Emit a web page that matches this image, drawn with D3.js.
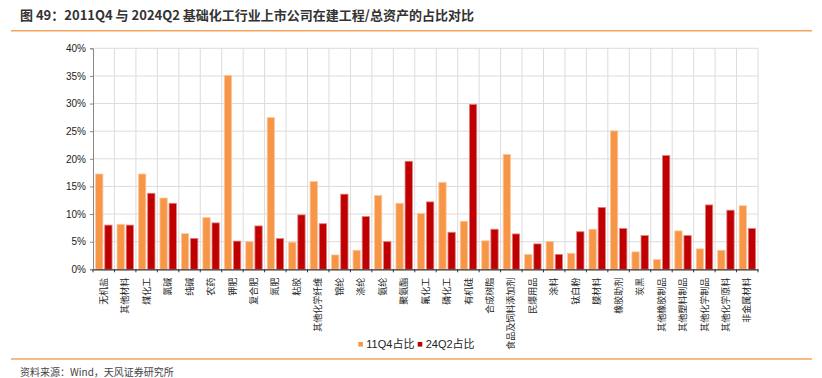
<!DOCTYPE html>
<html><head><meta charset="utf-8">
<script src="https://cdn.jsdelivr.net/npm/d3@7"></script>
<style>
html,body{margin:0;padding:0;background:#fff;}
svg{display:block;font-family:"Liberation Sans","Noto Sans CJK SC",sans-serif;}
</style></head>
<body>
<svg id="c" width="822" height="378"></svg>
<script>
const categories = ["无机盐","其他材料","煤化工","氯碱","纯碱","农药","钾肥","复合肥","氮肥","粘胶","其他化学纤维","锦纶","涤纶","氨纶","聚氨酯","氟化工","磷化工","有机硅","合成树脂","食品及饲料添加剂","民爆用品","涂料","钛白粉","膜材料","橡胶助剂","炭黑","其他橡胶制品","其他塑料制品","其他化学制品","其他化学原料","非金属材料"];
const series = ["11Q4占比","24Q2占比"];
const values11Q4 = [17.25,8.15,17.25,12.9,6.45,9.35,35.1,5.0,27.45,4.9,15.9,2.6,3.45,13.35,11.95,10.1,15.75,8.7,5.15,20.8,2.7,5.05,2.9,7.25,25.05,3.15,1.75,6.95,3.7,3.45,11.5];
const values24Q2 = [8.0,8.0,13.76,11.95,5.6,8.4,5.1,7.85,5.55,9.85,8.25,13.6,9.55,5.0,19.55,12.2,6.7,29.85,7.25,6.4,4.6,2.7,6.8,11.2,7.4,6.1,20.6,6.1,11.65,10.7,7.4];
const yTicks = [0,5,10,15,20,25,30,35,40];
const colors = ["#F79646","#C00000"];
const strokes = ["#FBC79E","#E08080"];

const svg = d3.select("#c");
const L=93, R=758, T=48.3, B=269.3;
const x0 = d3.scaleBand().domain(categories).range([L,R]).padding(0);
const x1 = d3.scaleBand().domain(series).range([2.6, x0.bandwidth()-2.4]).paddingInner(0.2).paddingOuter(0);
const y = d3.scaleLinear().domain([0,40]).range([B,T]);

// title
svg.append("text").attr("x",20).attr("y",20).attr("font-size",13).attr("font-weight","bold")
  .attr("fill","#333").attr("font-family","'Noto Sans CJK SC',sans-serif")
  .text("图 49：2011Q4 与 2024Q2 基础化工行业上市公司在建工程/总资产的占比对比");
svg.append("line").attr("x1",11).attr("x2",812).attr("y1",30.7).attr("y2",30.7).attr("stroke","#F4A460").attr("stroke-width",1.5);
svg.append("line").attr("x1",11).attr("x2",812).attr("y1",359).attr("y2",359).attr("stroke","#F4A460").attr("stroke-width",1.5);
svg.append("text").attr("x",20).attr("y",375.5).attr("font-size",10).attr("fill","#444")
  .attr("font-family","'Noto Sans CJK SC',sans-serif").text("资料来源：Wind，天风证券研究所");

// grid
const g = svg.append("g");
g.selectAll("line.h").data(yTicks.slice(1)).join("line")
  .attr("x1",L).attr("x2",R).attr("y1",d=>y(d)).attr("y2",d=>y(d))
  .attr("stroke","#dcdcdc").attr("stroke-width",1);
g.selectAll("line.v").data(categories).join("line")
  .attr("x1",d=>x0(d)+x0.bandwidth()).attr("x2",d=>x0(d)+x0.bandwidth())
  .attr("y1",T).attr("y2",B).attr("stroke","#dcdcdc").attr("stroke-width",1);

// y axis
const yAxis = svg.append("g").attr("transform",`translate(${L},0)`)
  .call(d3.axisLeft(y).tickValues(yTicks).tickFormat(d=>d+"%").tickSize(3).tickPadding(4));
yAxis.select(".domain").attr("stroke","#888");
yAxis.selectAll(".tick line").attr("stroke","#888");
yAxis.selectAll("text").attr("font-size",10).attr("fill","#222").attr("font-family","'Liberation Sans',sans-serif");

// bars
const grp = svg.append("g").selectAll("g").data(categories).join("g")
  .attr("transform",d=>`translate(${x0(d)},0)`);
grp.selectAll("rect").data((d,i)=>[{s:0,v:values11Q4[i]},{s:1,v:values24Q2[i]}]).join("rect")
  .attr("x",d=>x1(series[d.s])).attr("width",x1.bandwidth())
  .attr("y",d=>y(d.v)).attr("height",d=>B-y(d.v))
  .attr("fill",d=>colors[d.s]).attr("stroke",d=>strokes[d.s]).attr("stroke-width",0.8);

// x axis
const xAxis = svg.append("g").attr("transform",`translate(0,${B})`)
  .call(d3.axisBottom(x0).tickSize(0).tickFormat(""));
xAxis.select(".domain").attr("stroke","#333").attr("stroke-width",1.2);
svg.append("g").selectAll("line").data(categories).join("line")
  .attr("x1",d=>x0(d)).attr("x2",d=>x0(d)).attr("y1",B).attr("y2",B+3).attr("stroke","#333");
svg.append("line").attr("x1",R).attr("x2",R).attr("y1",B).attr("y2",B+3).attr("stroke","#333");

// x labels rotated -90, reading bottom-to-top, anchored at top
svg.append("g").selectAll("text").data(categories).join("text")
  .attr("transform",d=>`translate(${x0(d)+x0.bandwidth()/2},${B+8.5}) rotate(-90)`)
  .attr("text-anchor","end").attr("dy","0.35em")
  .attr("font-size",9).attr("fill","#222").attr("font-family","'Noto Sans CJK SC',sans-serif")
  .text(d=>d);

// legend
const leg = svg.append("g");
const lx = [358.3, 417.7];
series.forEach((s,i)=>{
  leg.append("rect").attr("x",lx[i]).attr("y",342).attr("width",4.6).attr("height",4.6).attr("fill",colors[i]);
  leg.append("text").attr("x",lx[i]+8).attr("y",348.3).attr("font-size",11).attr("fill","#222").text(s);
});
</script>
</body></html>
